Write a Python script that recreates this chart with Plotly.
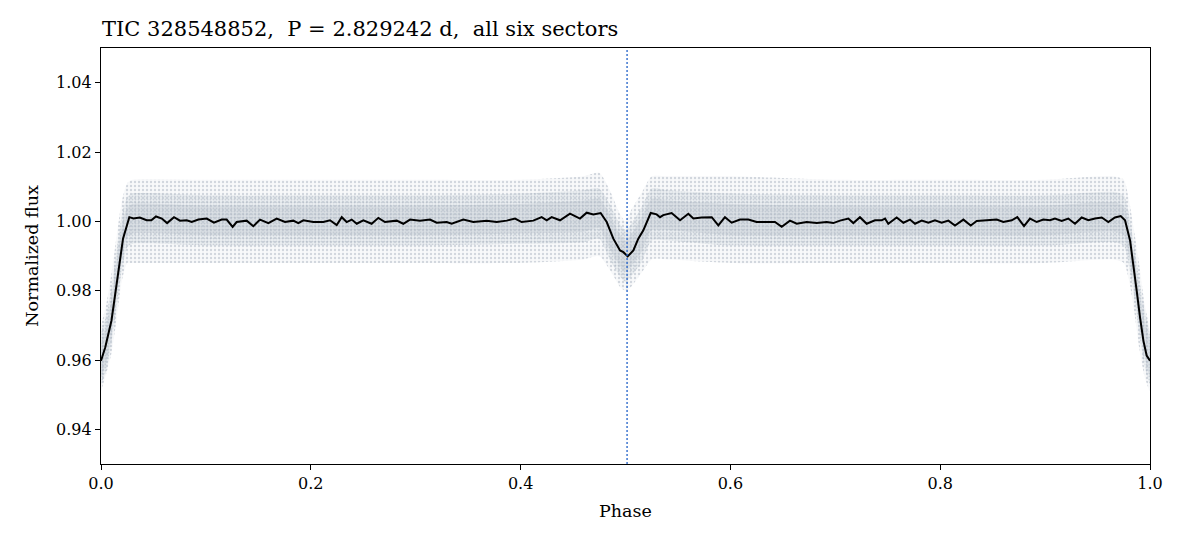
import plotly.graph_objects as go

# ---- binned light curve ----
bin_phase = [0.000, 0.004, 0.010, 0.020, 0.021, 0.027, 0.031, 0.037, 0.0435, 0.048, 0.0524, 0.058, 0.063,
             0.0696, 0.0753, 0.0817, 0.0865, 0.0928, 0.1008, 0.1077, 0.1150, 0.1198, 0.1255, 0.1293,
             0.1389, 0.1452, 0.1516, 0.1595, 0.1675, 0.1754, 0.1833, 0.1881, 0.1929, 0.2024, 0.2119,
             0.2183, 0.2247, 0.2295, 0.2342, 0.2390, 0.2438, 0.2501, 0.2580, 0.2644, 0.2707, 0.2819,
             0.2882, 0.2946, 0.3041, 0.3136, 0.3200, 0.3295, 0.3343, 0.3454, 0.3549, 0.3677, 0.3772,
             0.3868, 0.3947, 0.4010, 0.4121, 0.4201, 0.4249, 0.4296, 0.4376, 0.4471, 0.4566, 0.4630,
             0.4693, 0.4763, 0.4821, 0.4884, 0.4948, 0.4980, 0.5021, 0.5075, 0.5122, 0.5170, 0.5240,
             0.5297, 0.5329, 0.5360, 0.5440, 0.5520, 0.5599, 0.5647, 0.5726, 0.5822, 0.5885, 0.5948,
             0.6012, 0.6092, 0.6171, 0.6250, 0.6346, 0.6425, 0.6489, 0.6568, 0.6632, 0.6727, 0.6823,
             0.6918, 0.6981, 0.7045, 0.7124, 0.7172, 0.7235, 0.7299, 0.7378, 0.7442, 0.7474, 0.7505,
             0.7585, 0.7649, 0.7712, 0.7760, 0.7824, 0.7887, 0.7950, 0.8014, 0.8078, 0.8141, 0.8221,
             0.8291, 0.8348, 0.8443, 0.8539, 0.8602, 0.8682, 0.8735, 0.8799, 0.8856, 0.8920, 0.8983,
             0.9047, 0.9094, 0.9158, 0.9221, 0.9285, 0.9349, 0.9412, 0.9476, 0.9540, 0.9603, 0.9666,
             0.9721, 0.9762, 0.9810, 0.9841, 0.9873, 0.9905, 0.9937, 0.9968, 1.000]
bin_flux = [0.9598, 0.9636, 0.9714, 0.9936, 0.9950, 1.0012, 1.0008, 1.0011, 1.0003, 1.0003, 1.0014, 1.0008, 0.9995,
            1.0012, 1.0002, 1.0003, 0.9998, 1.0005, 1.0008, 0.9996, 1.0005, 1.0005, 0.9984, 0.9998,
            1.0002, 0.9986, 1.0005, 0.9995, 1.0008, 0.9998, 1.0002, 0.9995, 1.0003, 0.9998, 0.9998,
            1.0003, 0.9989, 1.0012, 0.9998, 1.0005, 0.9993, 1.0003, 0.9993, 1.0010, 0.9998, 1.0002,
            0.9993, 1.0005, 1.0002, 1.0005, 0.9996, 0.9998, 0.9993, 1.0005, 0.9998, 1.0002, 0.9998,
            1.0002, 1.0008, 0.9998, 1.0002, 1.0012, 1.0003, 1.0012, 1.0003, 1.0022, 1.0008, 1.0025,
            1.0020, 1.0024, 0.9998, 0.9950, 0.9916, 0.9911, 0.9899, 0.9916, 0.9950, 0.9974, 1.0024,
            1.0020, 1.0012, 1.0018, 1.0024, 1.0003, 1.0022, 1.0008, 1.0011, 1.0012, 0.9988, 1.0012,
            0.9996, 1.0005, 1.0005, 0.9998, 0.9998, 0.9998, 0.9984, 1.0002, 0.9993, 0.9998, 0.9995,
            0.9998, 0.9995, 1.0002, 1.0008, 0.9995, 1.0012, 0.9993, 1.0003, 1.0003, 1.0008, 0.9993,
            1.0011, 0.9996, 1.0005, 0.9993, 1.0002, 0.9996, 1.0003, 0.9996, 1.0002, 0.9988, 1.0005,
            0.9988, 1.0001, 1.0002, 1.0005, 0.9998, 1.0003, 1.0012, 0.9986, 1.0008, 0.9998, 1.0005,
            1.0003, 1.0008, 1.0001, 1.0008, 0.9993, 1.0011, 1.0003, 1.0008, 1.0011, 0.9998, 1.0011,
            1.0015, 1.0003, 0.9945, 0.9878, 0.9800, 0.9723, 0.9656, 0.9613, 0.9598]

# ---- extent of the unbinned point cloud ----
cloud_phase = [0.0, 0.005, 0.010, 0.015, 0.020, 0.025, 0.030, 0.10, 0.20, 0.30, 0.40, 0.46, 0.475, 0.485,
               0.495, 0.500, 0.505, 0.515, 0.525, 0.54, 0.60, 0.70, 0.80, 0.90, 0.965, 0.975, 0.980,
               0.985, 0.990, 0.995, 1.0]
outer_hi = [0.970, 0.976, 0.985, 0.996, 1.006, 1.011, 1.012, 1.012, 1.012, 1.012, 1.012, 1.013, 1.014, 1.009,
            1.002, 1.000, 1.003, 1.008, 1.013, 1.013, 1.013, 1.012, 1.012, 1.012, 1.013, 1.012, 1.006,
            0.997, 0.987, 0.976, 0.968]
outer_lo = [0.951, 0.956, 0.962, 0.972, 0.983, 0.988, 0.988, 0.988, 0.988, 0.988, 0.988, 0.989, 0.990, 0.986,
            0.981, 0.980, 0.981, 0.985, 0.989, 0.989, 0.988, 0.988, 0.988, 0.988, 0.989, 0.988, 0.983,
            0.974, 0.963, 0.955, 0.951]
mid_hi = [0.968, 0.973, 0.981, 0.992, 1.002, 1.007, 1.008, 1.0075, 1.0075, 1.0075, 1.008, 1.009, 1.0095,
          1.005, 0.999, 0.9975, 0.999, 1.004, 1.0095, 1.009, 1.008, 1.0075, 1.0075, 1.0075, 1.0085,
          1.0075, 1.002, 0.993, 0.983, 0.974, 0.967]
mid_lo = [0.953, 0.957, 0.965, 0.975, 0.986, 0.9925, 0.9935, 0.993, 0.993, 0.993, 0.9935, 0.994, 0.995,
          0.989, 0.984, 0.9825, 0.984, 0.988, 0.9945, 0.9945, 0.993, 0.993, 0.993, 0.993, 0.994,
          0.993, 0.987, 0.978, 0.967, 0.958, 0.953]
inner_hi = [0.965, 0.970, 0.978, 0.989, 0.999, 1.004, 1.005, 1.0045, 1.0045, 1.0045, 1.005, 1.006, 1.0065,
            1.002, 0.996, 0.9945, 0.996, 1.001, 1.0065, 1.006, 1.005, 1.0045, 1.0045, 1.0045, 1.0055,
            1.0045, 0.999, 0.990, 0.980, 0.971, 0.965]
inner_lo = [0.955, 0.959, 0.967, 0.978, 0.989, 0.9955, 0.9965, 0.996, 0.996, 0.996, 0.9965, 0.997, 0.998,
            0.992, 0.987, 0.9855, 0.987, 0.991, 0.9975, 0.9975, 0.996, 0.996, 0.996, 0.996, 0.997,
            0.996, 0.990, 0.981, 0.970, 0.961, 0.955]

x_ticks = [0.0, 0.2, 0.4, 0.6, 0.8, 1.0]
y_ticks = [0.94, 0.96, 0.98, 1.00, 1.02, 1.04]
secondary_phase = 0.5015

title_text = "TIC 328548852,  P = 2.829242 d,  all six sectors"

FONT = "DejaVu Serif"
PT = "#aab3c0"

fig = go.Figure()

def band(hi, lo, tint, size, solidity, name):
    xs = cloud_phase + cloud_phase[::-1]
    ys = hi + lo[::-1]
    fig.add_trace(go.Scatter(
        x=xs, y=ys, mode="lines", fill="toself", name=name,
        line=dict(width=0, color="rgba(0,0,0,0)", shape="spline", smoothing=0.6),
        fillcolor=tint,
        fillpattern=dict(shape=".", fgcolor=PT, size=size, solidity=solidity, fillmode="overlay"),
        hoverinfo="skip", showlegend=False))

band(outer_hi, outer_lo, "rgba(190,197,207,0.10)", 4, 0.28, "cloud outer")
band(mid_hi, mid_lo, "rgba(185,193,204,0.18)", 3, 0.30, "cloud mid")
band(inner_hi, inner_lo, "rgba(180,188,200,0.20)", 2, 0.30, "cloud core")

fig.add_trace(go.Scatter(x=bin_phase, y=bin_flux, mode="lines",
                         line=dict(color="black", width=2), showlegend=False))

fig.add_vline(x=secondary_phase, line=dict(color="#2060c8", width=1.3, dash="2px,2px"))

axis_common = dict(showgrid=False, zeroline=False, showline=True, linecolor="black", linewidth=1.2,
                   mirror=True, ticks="outside", ticklen=5, tickwidth=1.2, tickcolor="black",
                   tickfont=dict(family=FONT, size=16, color="black"))

fig.update_layout(
    width=1184, height=544,
    paper_bgcolor="white", plot_bgcolor="white",
    margin=dict(l=101, r=34, t=48, b=80),
    title=dict(text=title_text, x=102/1184, xanchor="left", y=1-29/544, yanchor="middle",
               font=dict(family=FONT, size=21, color="black")),
    xaxis=dict(range=[0, 1], tickvals=x_ticks, tickformat=".1f",
               title=dict(text="Phase", font=dict(family=FONT, size=17.5, color="black"), standoff=12),
               **axis_common),
    yaxis=dict(range=[0.93, 1.05], tickvals=y_ticks, tickformat=".2f",
               title=dict(text="Normalized flux", font=dict(family=FONT, size=17.5, color="black"), standoff=12),
               **axis_common),
)

fig.write_html("out.html")
